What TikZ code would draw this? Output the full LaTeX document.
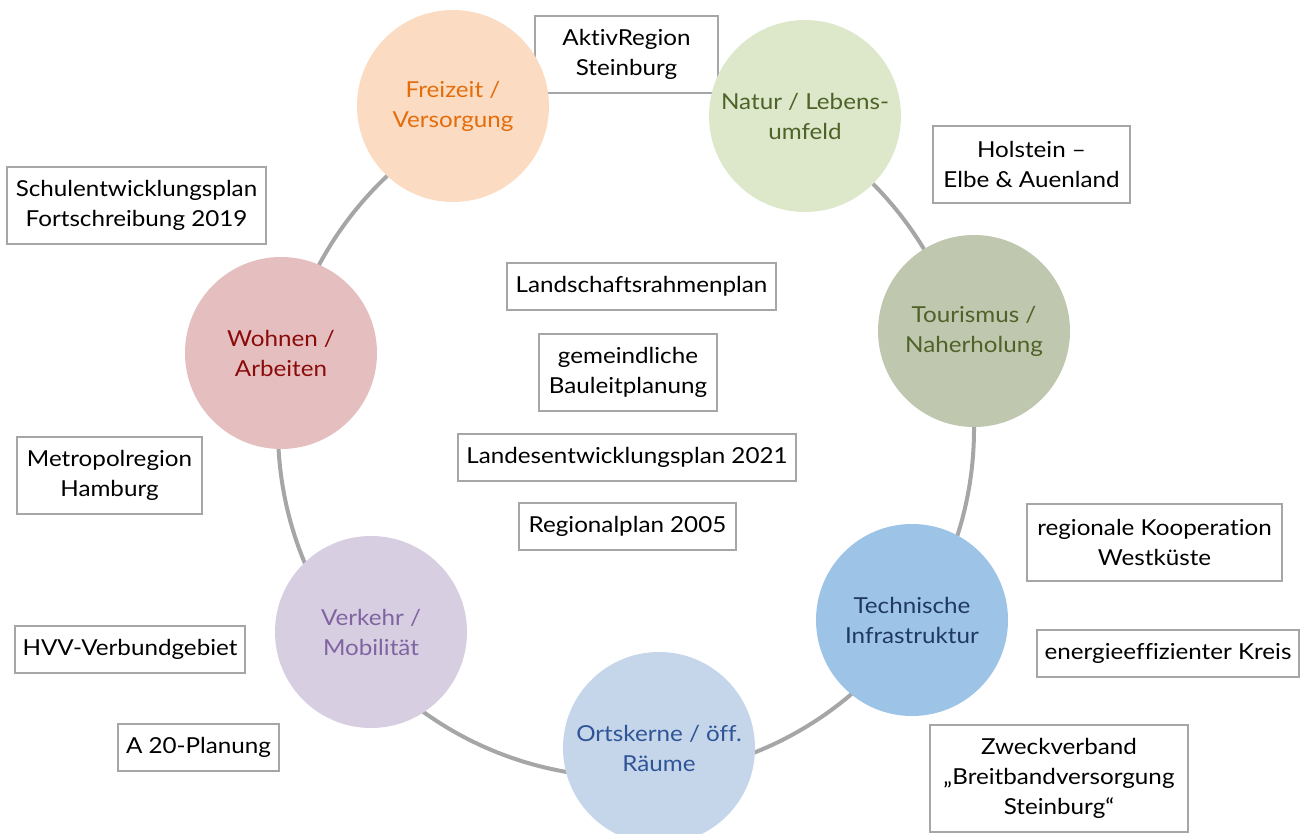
\documentclass[tikz,border=0pt]{standalone}
\usepackage{fontspec}
\setmainfont[FakeStretch=1.1,Ligatures=NoCommon]{Lato}
\definecolor{ringgray}{HTML}{A6A6A6}
\definecolor{boxgray}{HTML}{A6A6A6}
\definecolor{fzfill}{HTML}{FBDCC2}\definecolor{fztext}{HTML}{E46C0A}
\definecolor{nafill}{HTML}{DDE8CB}\definecolor{natext}{HTML}{4F6228}
\definecolor{tofill}{HTML}{BFC7AF}\definecolor{totext}{HTML}{4F6228}
\definecolor{wofill}{HTML}{E5BFBF}\definecolor{wotext}{HTML}{8B0A0A}
\definecolor{vefill}{HTML}{D8CEE2}\definecolor{vetext}{HTML}{8064A2}
\definecolor{orfill}{HTML}{C5D6EB}\definecolor{ortext}{HTML}{2F5597}
\definecolor{tefill}{HTML}{9DC3E6}\definecolor{tetext}{HTML}{1F3864}
\tikzset{
  topic/.style={circle, draw=none, minimum size=192pt, inner sep=0pt, align=center,
    font=\fontsize{22pt}{30pt}\selectfont},
  plan/.style={draw=boxgray, line width=1.5pt, fill=white, inner sep=0pt, align=center,
    font=\fontsize{22pt}{30pt}\selectfont, text=black},
  ring/.style={draw=ringgray, line width=4pt}
}
\begin{document}
\begin{tikzpicture}[x=1pt,y=-1pt]
\useasboundingbox (0,0) rectangle (1308,834);
% ring
\node[circle, ring, minimum size=696pt, inner sep=0pt] (ringc) at (626,429) {};
% boxes
\node[plan, minimum width=183pt, minimum height=77pt] (aktiv) at (626.5,54.5) {AktivRegion\\Steinburg};
\node[plan, minimum width=197pt, minimum height=77pt] (holst) at (1031.5,164.5) {Holstein –\\Elbe \& Auenland};
\node[plan, minimum width=259pt, minimum height=77pt] (schul) at (136.5,205.5) {Schulentwicklungsplan\\Fortschreibung 2019};
\node[plan, minimum width=269pt, minimum height=47pt] (lrp) at (641.5,286.5) {Landschaftsrahmenplan};
\node[plan, minimum width=178pt, minimum height=77pt] (bau) at (628,372.5) {gemeindliche\\Bauleitplanung};
\node[plan, minimum width=338pt, minimum height=47pt] (lep) at (627,457.5) {Landesentwicklungsplan 2021};
\node[plan, minimum width=217pt, minimum height=47pt] (rp) at (627.5,526.5) {Regionalplan 2005};
\node[plan, minimum width=185pt, minimum height=77pt] (metro) at (109.5,475.5) {Metropolregion\\Hamburg};
\node[plan, minimum width=230pt, minimum height=47pt] (hvv) at (130,649.5) {HVV-Verbundgebiet};
\node[plan, minimum width=161pt, minimum height=47pt] (a20) at (198.5,747.5) {A 20-Planung};
\node[plan, minimum width=255pt, minimum height=77pt] (koop) at (1154.5,542.5) {regionale Kooperation\\Westküste};
\node[plan, minimum width=262pt, minimum height=47pt] (energ) at (1168,653.5) {energieeffizienter Kreis};
\node[plan, minimum width=258pt, minimum height=107pt] (zweck) at (1059,778.5) {Zweckverband\\„Breitbandversorgung\\Steinburg“};
% topic circles
\node[topic, fill=fzfill, text=fztext] (freizeit) at (453,106) {Freizeit /\\Versorgung};
\node[topic, fill=nafill, text=natext] (natur) at (805,116) {Natur / Lebens-\\umfeld};
\node[topic, fill=tofill, text=totext] (tour) at (974,331) {Tourismus /\\Naherholung};
\node[topic, fill=tefill, text=tetext] (tech) at (912,620) {Technische\\Infrastruktur};
\node[topic, fill=orfill, text=ortext] (orts) at (659,748) {Ortskerne / öff.\\Räume};
\node[topic, fill=vefill, text=vetext] (verk) at (371,632) {Verkehr /\\Mobilität};
\node[topic, fill=wofill, text=wotext] (wohn) at (281,353) {Wohnen /\\Arbeiten};
\end{tikzpicture}
\end{document}
